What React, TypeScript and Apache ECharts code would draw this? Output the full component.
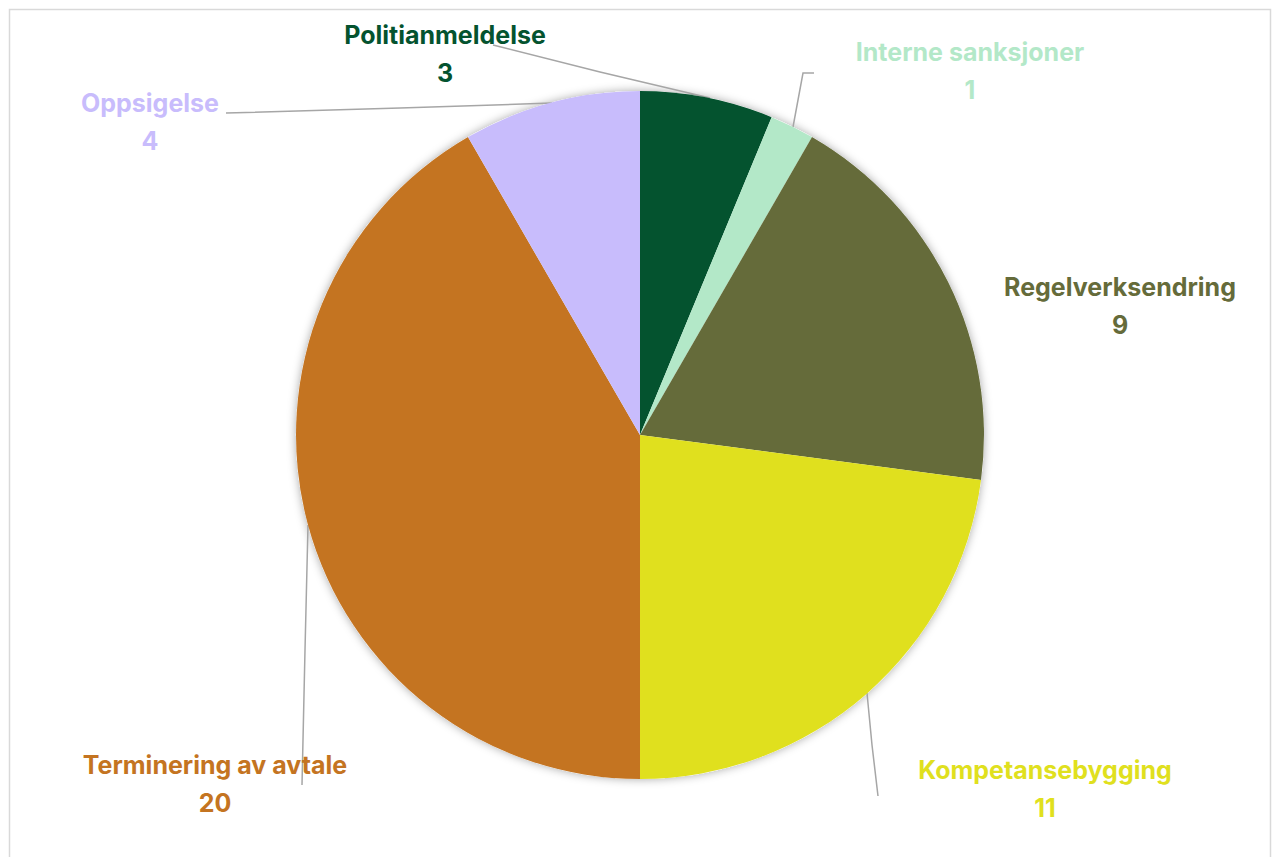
import React, { useEffect, useRef } from "react";
import * as echarts from "echarts";

const categories = [
  "Politianmeldelse",
  "Interne sanksjoner",
  "Regelverksendring",
  "Kompetansebygging",
  "Terminering av avtale",
  "Oppsigelse",
];
const values = [3, 1, 9, 11, 20, 4];
const colors = ["#04532f", "#b3e8c8", "#656b3a", "#e0e01e", "#c47421", "#c8bcfc"];

// label centre positions (layout only)
const labelAnchors: Record<string, [number, number]> = {
  Politianmeldelse: [445, 54],
  "Interne sanksjoner": [970, 71],
  Regelverksendring: [1120, 306],
  Kompetansebygging: [1045, 789],
  "Terminering av avtale": [215, 784],
  Oppsigelse: [150, 122],
};

// leader line routes (layout only)
const leaderLines: Record<string, number[][] | null> = {
  Politianmeldelse: [[710, 98], [600, 72], [493, 45]],
  "Interne sanksjoner": [[793, 127], [803, 73], [814, 73]],
  Regelverksendring: null,
  Kompetansebygging: [[867, 693], [872, 745], [878, 796]],
  "Terminering av avtale": [[308, 525], [305, 650], [302, 785]],
  Oppsigelse: [[552, 103], [400, 108], [226, 113]],
};

export default function App() {
  const ref = useRef<HTMLDivElement>(null);
  useEffect(() => {
    if (!ref.current) return;
    const chart = echarts.init(ref.current, null, { renderer: "svg" });
    const font = "Inter, 'Noto Sans', sans-serif";
    chart.setOption({
      animation: false,
      backgroundColor: "#ffffff",
      graphic: [
        {
          type: "rect",
          shape: { x: 9.5, y: 9.5, width: 1261, height: 870 },
          style: { fill: "none", stroke: "#d9d9d9", lineWidth: 1.5 },
          silent: true,
        },
      ],
      series: [
        {
          type: "pie",
          silent: true,
          center: [640, 435],
          radius: [0, 344],
          z: 1,
          label: { show: false },
          labelLine: { show: false },
          itemStyle: {
            color: "#ffffff",
            shadowBlur: 10,
            shadowColor: "rgba(0,0,0,0.35)",
          },
          data: [{ value: 1, name: "" }],
        },
        {
          type: "pie",
          z: 2,
          center: [640, 435],
          radius: [0, 344],
          startAngle: 90,
          clockwise: true,
          avoidLabelOverlap: false,
          data: categories.map((c, i) => ({
            name: c,
            value: values[i],
            itemStyle: { color: colors[i] },
            label: { color: colors[i] },
            labelLine: { show: leaderLines[c] !== null },
          })),
          label: {
            show: true,
            position: "outside",
            formatter: "{name|{b}}\n{val|{c}}",
            fontFamily: font,
            fontWeight: "bold",
            fontSize: 25,
            lineHeight: 38,
            align: "center",
            rich: {
              name: { fontFamily: font, fontWeight: "bold", fontSize: 25, lineHeight: 38 },
              val: { fontFamily: font, fontWeight: "bold", fontSize: 25, lineHeight: 38 },
            },
          },
          labelLine: {
            show: true,
            length: 20,
            length2: 10,
            smooth: false,
            lineStyle: { color: "#a6a6a6", width: 1.5 },
          },
          labelLayout: (params: any) => {
            const name = categories[params.dataIndex];
            const p = labelAnchors[name];
            const res: any = { x: p[0], y: p[1], align: "center", verticalAlign: "middle" };
            const pts = leaderLines[name];
            if (pts) res.labelLinePoints = pts;
            return res;
          },
        },
      ],
    });
    return () => chart.dispose();
  }, []);
  return (
    <div
      ref={ref}
      style={{ position: "fixed", left: 0, top: 0, width: 1273, height: 857 }}
    />
  );
}
